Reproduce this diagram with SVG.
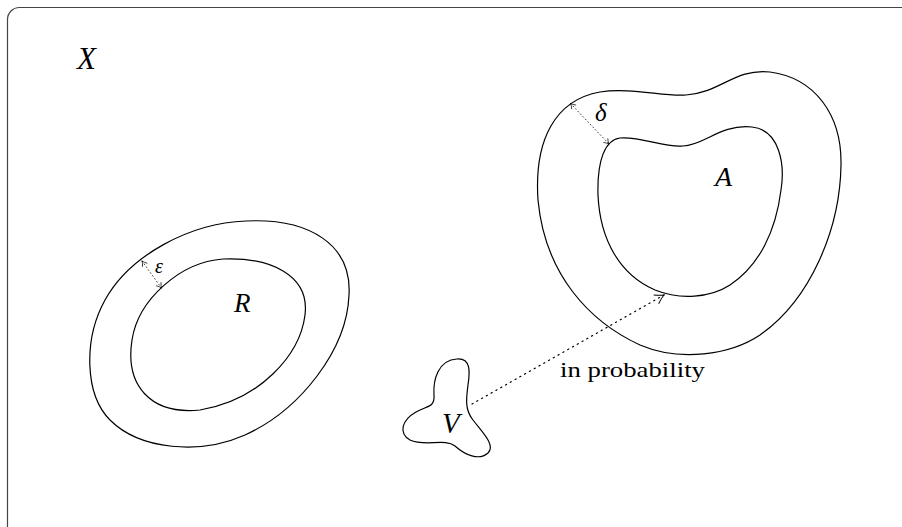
<svg xmlns="http://www.w3.org/2000/svg" width="902" height="527" viewBox="0 0 902 527">
<style>
.shape{fill:none;stroke:#000;stroke-width:1.2}
.dot{fill:none;stroke:#000;stroke-width:1.2;stroke-dasharray:1.2 4.3;stroke-linecap:round}
.sdot{fill:none;stroke:#000;stroke-width:0.8;stroke-dasharray:0.8 2.8;stroke-linecap:round}
.lbl{font-family:'Liberation Serif',serif;font-style:italic;fill:#000}
</style>
<defs>
<marker id="big" viewBox="-10 -6 12 12" markerWidth="12" markerHeight="12" refX="0" refY="0" orient="auto" markerUnits="userSpaceOnUse">
<path d="M-9,-5 Q-3,-1 0,0 Q-3,1 -9,5" fill="none" stroke="#000" stroke-width="1"/>
</marker>
<marker id="sm" viewBox="-6 -4 7 8" markerWidth="7" markerHeight="8" refX="0" refY="0" orient="auto-start-reverse" markerUnits="userSpaceOnUse">
<path d="M-5,-3 Q-2,-0.6 0,0 Q-2,0.6 -5,3" fill="none" stroke="#000" stroke-width="0.7"/>
</marker>
</defs>
<rect x="7.5" y="7.5" width="930" height="560" rx="12" fill="none" stroke="#444" stroke-width="1.2"/>
<text class="lbl" x="77" y="69" font-size="31">X</text>
<g id="R">
<path class="shape" d="M246,221 C310,218 352,245 349,295 C347,350 300,410 245,435 C200,455 140,450 110,420 C85,395 83,340 105,300 C130,255 190,223 246,221 Z"/>
<path class="shape" d="M223,259 C270,257 310,275 305,315 C300,355 260,400 200,410 C150,415 125,385 132,340 C138,300 180,262 223,259 Z"/>
<text class="lbl" x="234" y="312" font-size="27">R</text>
<text class="lbl" x="155" y="273" font-size="20">ε</text>
</g>
<g id="A">
<path class="shape" d="M686,95 C720,93 735,68 770,72 C815,78 842,115 841,165 C840,230 810,300 760,335 C730,355 680,362 640,345 C590,322 545,275 538,200 C534,140 555,100 600,92 C630,87 665,97 686,95 Z"/>
<path class="shape" d="M683,146 C705,145 720,124 752,127 C780,130 785,165 781,190 C776,230 760,265 730,285 C710,298 680,300 655,290 C620,275 600,240 598,195 C597,160 605,140 620,138 C640,136 665,148 683,146 Z"/>
<text class="lbl" x="715" y="186" font-size="28">A</text>
<text class="lbl" x="595" y="121" font-size="25">δ</text>
</g>
<g id="V">
<path class="shape" d="M457,359 C471,358 470,372 468,385 C466,400 465,410 473,420 C482,432 496,445 488,453 C479,461 465,455 455,446 C445,438 425,447 410,440 C398,433 402,420 416,412 C426,406 435,408 434,395 C433,380 438,360 457,359 Z"/>
<text class="lbl" x="442" y="433" font-size="29">V</text>
</g>
<g id="connectors">
<path class="sdot" d="M142,261 L161.5,288" marker-start="url(#sm)" marker-end="url(#sm)"/>
<path class="sdot" d="M570.5,103.5 L609,144" marker-start="url(#sm)" marker-end="url(#sm)"/>
<path class="dot" d="M472,404 L664,295" marker-end="url(#big)"/>
<text x="560" y="377" font-size="21" font-family="'Liberation Serif', serif" fill="#000" textLength="145" lengthAdjust="spacingAndGlyphs">in probability</text>
</g>
</svg>
